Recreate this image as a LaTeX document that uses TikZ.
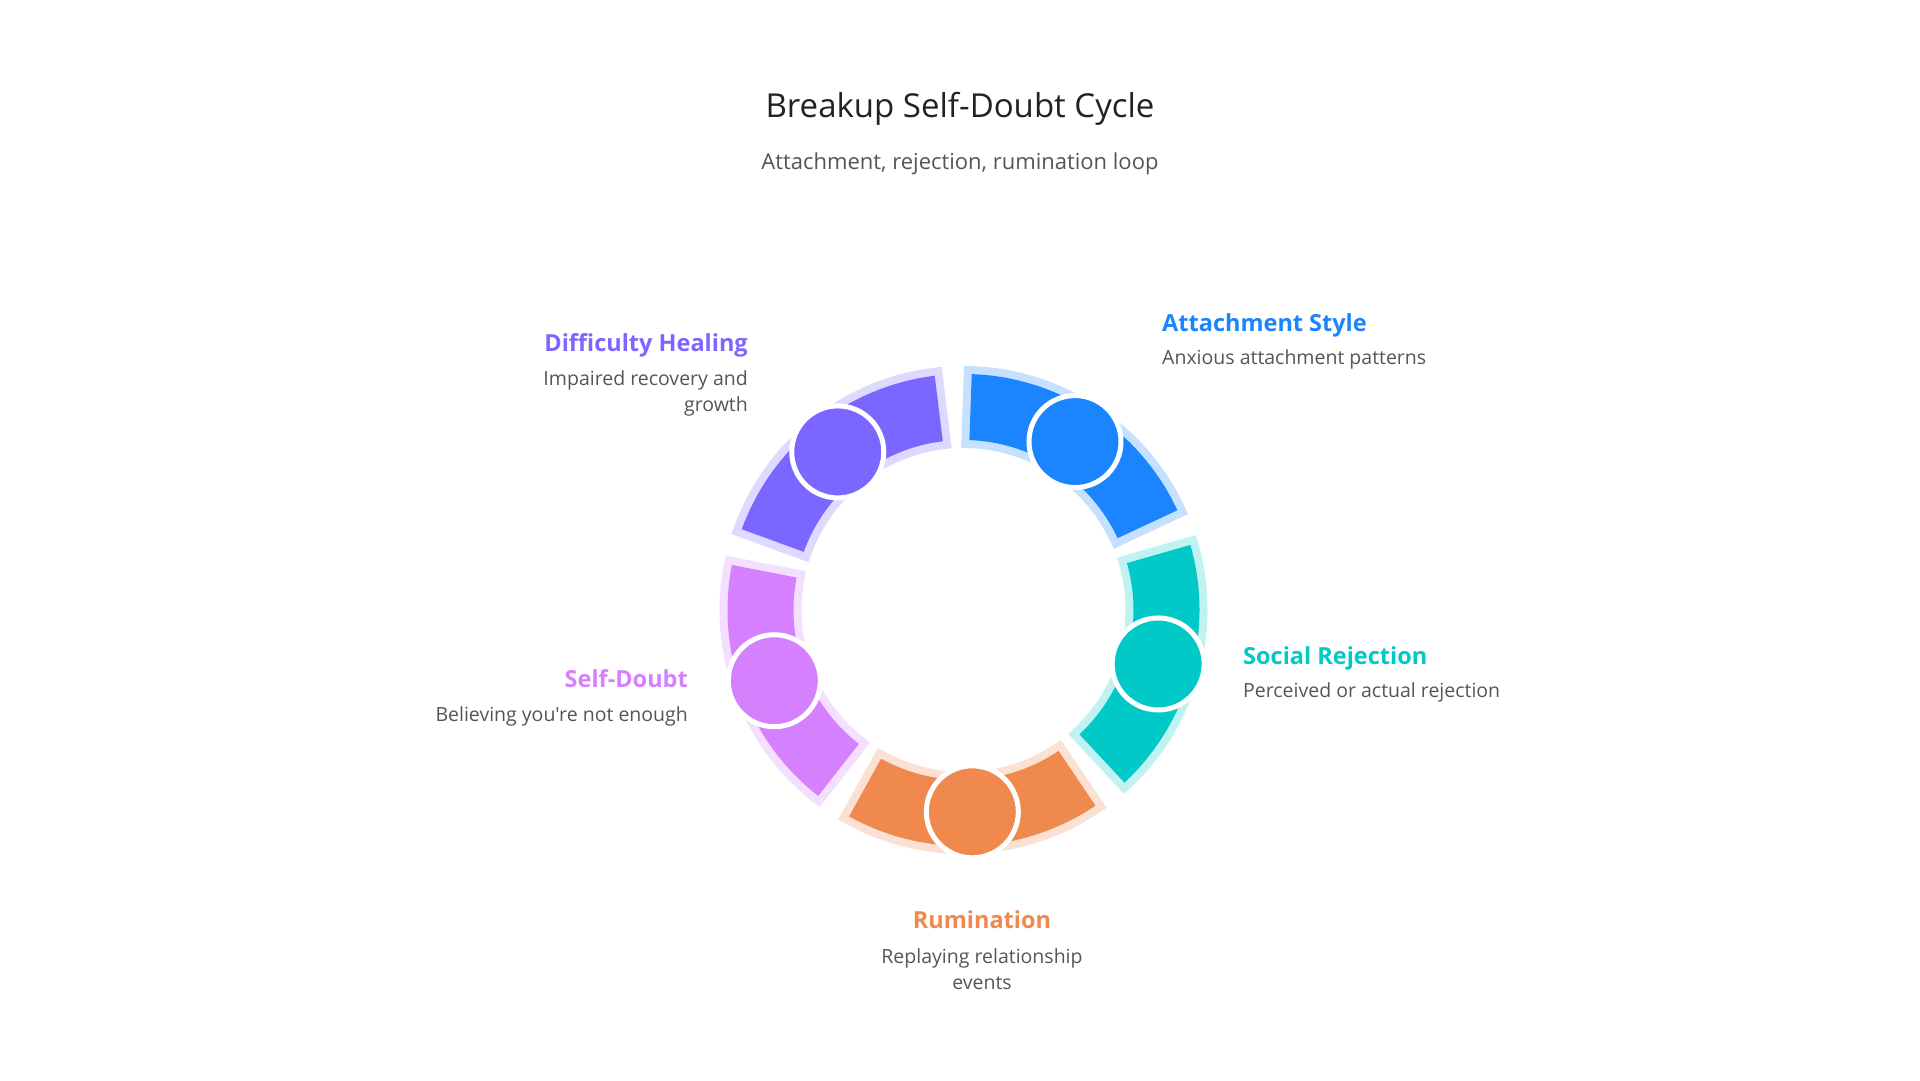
\documentclass[tikz,border=0pt]{standalone}
\usepackage{fontspec}
\setmainfont{Open Sans}[Ligatures=TeXOff]
\usepackage{tikz}
\usetikzlibrary{positioning}
\definecolor{attblue}{HTML}{1A85FF}
\definecolor{rejteal}{HTML}{00C9C8}
\definecolor{rumorange}{HTML}{F0894E}
\definecolor{doubtpink}{HTML}{D580FF}
\definecolor{healpurple}{HTML}{7B66FF}
\definecolor{titlegray}{HTML}{222222}
\definecolor{textgray}{HTML}{555555}

\begin{document}
\begin{tikzpicture}[x=1pt, y=1pt,
    seg/.style={fill=#1, preaction={draw=#1!25, line width=16pt}},
    dot/.style={circle, fill=#1, draw=white, line width=5pt, minimum size=92pt, inner sep=0pt},
    head/.style={font=\fontsize{23.5}{28}\selectfont\bfseries, text=#1, inner sep=0pt},
    desc/.style={font=\fontsize{19.5}{26}\selectfont, text=textgray, inner sep=0pt}]
      \useasboundingbox (0, 0) rectangle (1920, 1080);
      \node[font=\fontsize{33}{40}\selectfont, text=titlegray, anchor=base] (title) at (960, 962) {Breakup Self-Doubt Cycle};
      \node[font=\fontsize{22}{27}\selectfont, text=textgray, anchor=base] (subtitle) at (960, 910) {Attachment, rejection, rumination loop};
      \begin{scope}[shift={(963.5, 470)}]
        \fill[seg=attblue] (88:236pt) arc[start angle=88, end angle=25, radius=236pt] -- (25:170pt) arc[start angle=25, end angle=88, radius=170pt] -- cycle;
        \fill[seg=rejteal] (16:236pt) arc[start angle=16, end angle=-47, radius=236pt] -- (-47:170pt) arc[start angle=-47, end angle=16, radius=170pt] -- cycle;
        \fill[seg=rumorange] (-56:236pt) arc[start angle=-56, end angle=-119, radius=236pt] -- (-119:170pt) arc[start angle=-119, end angle=-56, radius=170pt] -- cycle;
        \fill[seg=doubtpink] (-128:236pt) arc[start angle=-128, end angle=-191, radius=236pt] -- (-191:170pt) arc[start angle=-191, end angle=-128, radius=170pt] -- cycle;
        \fill[seg=healpurple] (160:236pt) arc[start angle=160, end angle=97, radius=236pt] -- (97:170pt) arc[start angle=97, end angle=160, radius=170pt] -- cycle;
        \node[dot=attblue] (attdot) at (56.5:202pt) {};
        \node[dot=rejteal] (rejdot) at (-15.5:202pt) {};
        \node[dot=rumorange] (rumdot) at (-87.5:202pt) {};
        \node[dot=doubtpink] (doubtdot) at (-159.5:202pt) {};
        \node[dot=healpurple] (healdot) at (128.5:202pt) {};
      \end{scope}
      \node[head=attblue, anchor=base west] (atthead) at (1162, 748) {Attachment Style};
      \node[desc, below=33pt of atthead.base west, anchor=base west] (attdesc) {Anxious attachment patterns};
      \node[head=rejteal, anchor=base west] (rejhead) at (1243, 415) {Social Rejection};
      \node[desc, below=33pt of rejhead.base west, anchor=base west] (rejdesc) {Perceived or actual rejection};
      \node[head=rumorange, anchor=base] (rumhead) at (982, 152) {Rumination};
      \node[desc, align=center, below=61pt of rumhead.base, anchor=base] (rumdesc) {Replaying relationship\\events};
      \node[head=doubtpink, anchor=base east] (doubthead) at (688, 392) {Self-Doubt};
      \node[desc, below=34pt of doubthead.base east, anchor=base east] (doubtdesc) {Believing you're not enough};
      \node[head=healpurple, anchor=base east] (healhead) at (748, 728) {Difficulty Healing};
      \node[desc, align=right, below=60pt of healhead.base east, anchor=base east] (healdesc) {Impaired recovery and\\growth};
    \end{tikzpicture}
\end{document}
